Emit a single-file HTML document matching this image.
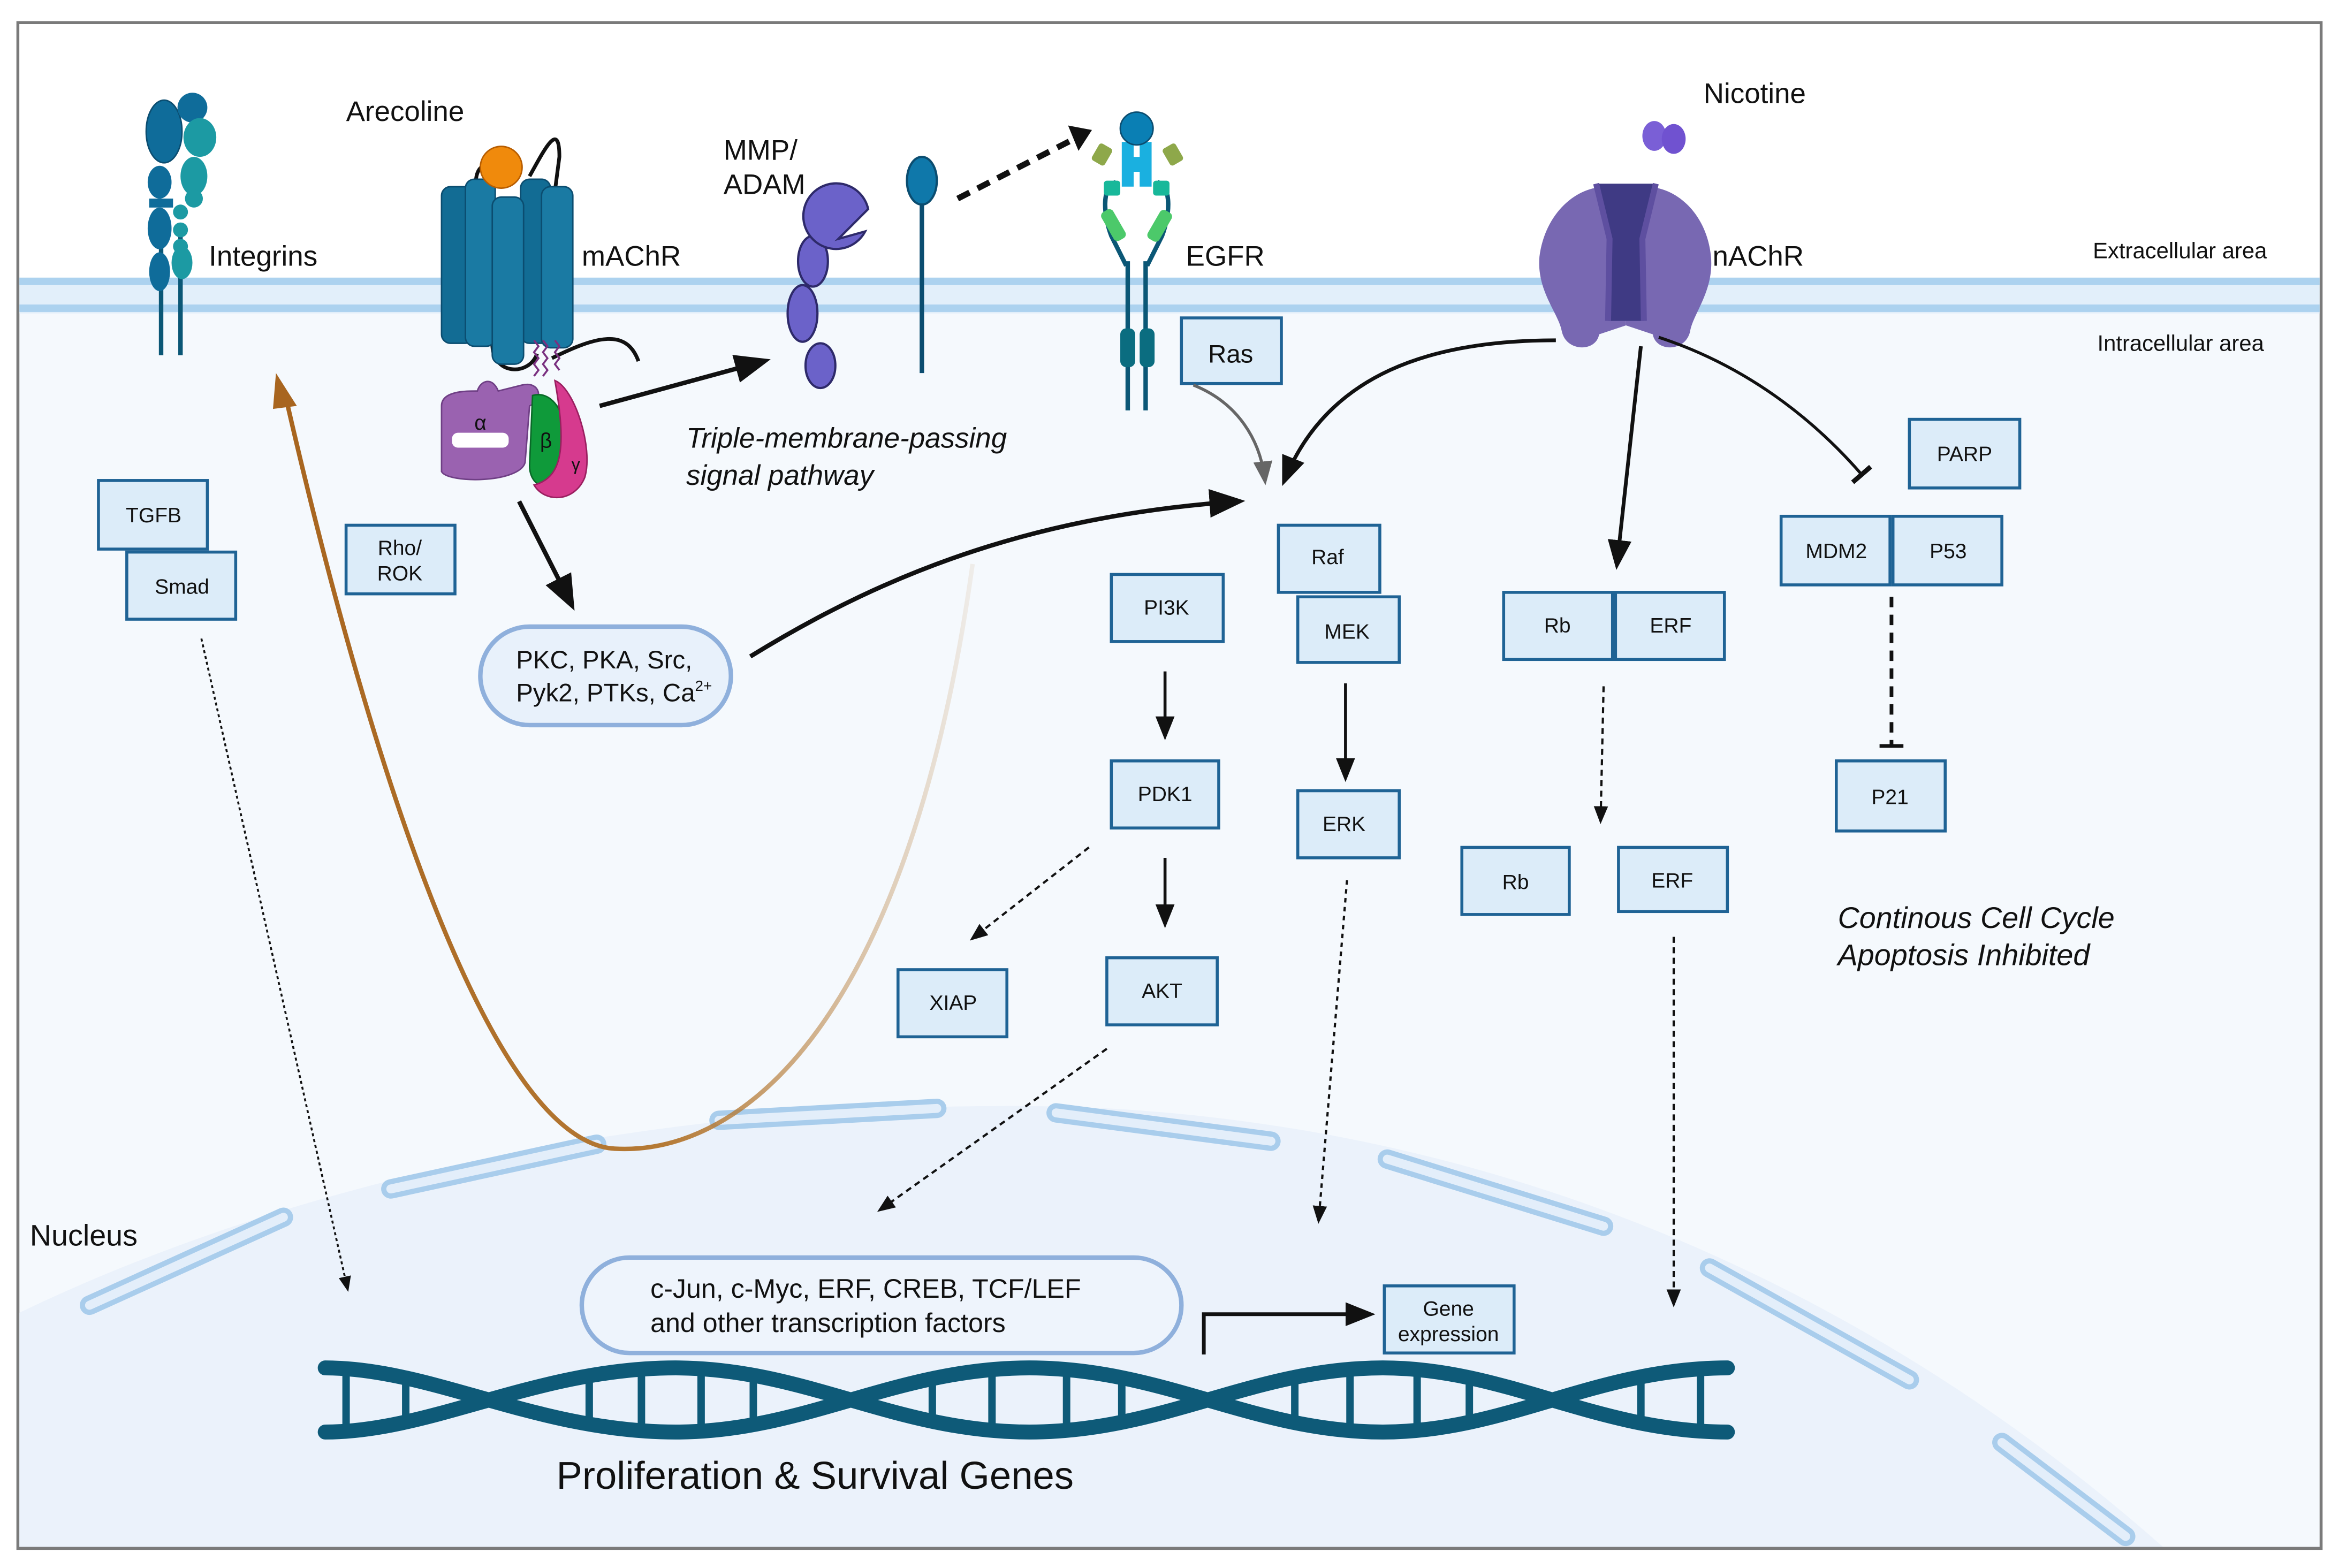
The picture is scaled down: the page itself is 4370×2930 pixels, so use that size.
<!DOCTYPE html>
<html><head><meta charset="utf-8"><style>
html,body{margin:0;padding:0;background:#fff;}
svg{display:block;}
text{font-family:"Liberation Sans",sans-serif;fill:#111;}
.b{fill:#dcecf9;stroke:#1f6395;stroke-width:2;}
.bt{font-size:14px;text-anchor:middle;}
.lb{font-size:19px;}
</style></head><body>
<svg width="4370" height="2930" viewBox="0 0 1568 1051" xmlns="http://www.w3.org/2000/svg">
<defs>
<marker id="ahs" viewBox="0 0 10 10" refX="8" refY="5" markerWidth="8" markerHeight="8" orient="auto"><path d="M0,1 L10,5 L0,9 z" fill="#111"/></marker>
<marker id="ahg" viewBox="0 0 10 10" refX="8" refY="5" markerWidth="8" markerHeight="8" orient="auto"><path d="M0,1 L10,5 L0,9 z" fill="#666"/></marker>
<marker id="tb" viewBox="0 0 10 10" refX="5" refY="5" markerWidth="8" markerHeight="8" orient="auto"><path d="M5,0 L5,10" stroke="#111" stroke-width="2"/></marker>
<linearGradient id="br" x1="0" y1="0" x2="1" y2="0"><stop offset="0" stop-color="#a8651f"/><stop offset="0.55" stop-color="#b57a35"/><stop offset="1" stop-color="#b57a35" stop-opacity="0.1"/></linearGradient>
</defs>
<rect x="0" y="0" width="1568" height="1051" fill="#fff"/>
<rect x="12" y="15" width="1544" height="1023" fill="#f5f9fd" stroke="#7a7a7a" stroke-width="2"/>
<rect x="13" y="16" width="1542" height="170" fill="#fff"/>
<rect x="13" y="186" width="1542" height="24" fill="#e2effa"/>
<rect x="13" y="186" width="1542" height="5" fill="#acd2ef"/>
<rect x="13" y="204" width="1542" height="5" fill="#acd2ef"/>
<path d="M13 880 C 200 790, 450 735, 720 742 C 1000 752, 1250 860, 1450 1037 L13 1037 Z" fill="#ebf2fb"/>
<g stroke-linecap="round">
<g stroke="#a9cdec" stroke-width="13" fill="none">
<path d="M60 875 L190 816"/><path d="M262 797 L400 767"/><path d="M482 751 L628 743"/><path d="M708 746 L852 765"/><path d="M930 777 L1075 822"/><path d="M1146 850 L1280 925"/><path d="M1342 967 L1425 1030"/>
</g>
<g stroke="#e3eefa" stroke-width="6" fill="none">
<path d="M60 875 L190 816"/><path d="M262 797 L400 767"/><path d="M482 751 L628 743"/><path d="M708 746 L852 765"/><path d="M930 777 L1075 822"/><path d="M1146 850 L1280 925"/><path d="M1342 967 L1425 1030"/>
</g>
</g>
<text x="232" y="81" class="lb">Arecoline</text>
<text x="140" y="178" class="lb">Integrins</text>
<text x="390" y="178" class="lb">mAChR</text>
<text x="485" y="107" class="lb">MMP/</text>
<text x="485" y="130" class="lb">ADAM</text>
<text x="795" y="178" class="lb">EGFR</text>
<text x="1142" y="69" class="lb">Nicotine</text>
<text x="1148" y="178" class="lb">nAChR</text>
<text x="1403" y="173" font-size="15">Extracellular area</text>
<text x="1406" y="235" font-size="15">Intracellular area</text>
<text x="460" y="300" font-size="19" font-style="italic">Triple-membrane-passing</text>
<text x="460" y="325" font-size="19" font-style="italic">signal pathway</text>
<text x="1232" y="622" font-size="20" font-style="italic">Continous Cell Cycle</text>
<text x="1232" y="647" font-size="20" font-style="italic">Apoptosis Inhibited</text>
<text x="20" y="835" font-size="20">Nucleus</text>
<text x="373" y="998" font-size="26">Proliferation &amp; Survival Genes</text>
<!-- Integrins -->
<g>
<line x1="108" y1="150" x2="108" y2="238" stroke="#0b5776" stroke-width="3"/>
<line x1="121" y1="150" x2="121" y2="238" stroke="#0b5776" stroke-width="3"/>
<ellipse cx="110" cy="88" rx="12" ry="21" fill="#0f6c9a" stroke="#0b4d70"/>
<ellipse cx="107" cy="122" rx="8" ry="11" fill="#0f6c9a"/>
<rect x="100" y="133" width="16" height="6" fill="#0f6c9a"/>
<ellipse cx="107" cy="153" rx="8" ry="14" fill="#0f6c9a"/>
<ellipse cx="107" cy="182" rx="7" ry="13" fill="#0f6c9a"/>
<circle cx="129" cy="72" r="10" fill="#0f6c9a"/>
<ellipse cx="134" cy="92" rx="11" ry="13" fill="#1c9aa3"/>
<ellipse cx="130" cy="118" rx="9" ry="13" fill="#1c9aa3"/>
<circle cx="121" cy="142" r="5" fill="#1c9aa3"/><circle cx="121" cy="154" r="5" fill="#1c9aa3"/><circle cx="121" cy="165" r="5" fill="#1c9aa3"/>
<ellipse cx="122" cy="176" rx="7" ry="11" fill="#1c9aa3"/>
<circle cx="130" cy="133" r="6" fill="#1c9aa3"/>
</g>
<!-- mAChR -->
<g>
<path d="M330 230 C 330 252, 355 252, 360 237" stroke="#111" stroke-width="2.5" fill="none"/>
<path d="M370 240 C 400 225, 420 220, 428 242" stroke="#111" stroke-width="2.5" fill="none"/>
<path d="M320 130 C 315 110, 330 105, 330 118" stroke="#111" stroke-width="2.5" fill="none"/>
<path d="M355 118 C 365 100, 375 80, 375 105 L 372 128" stroke="#111" stroke-width="2.5" fill="none"/>
<rect x="296" y="125" width="22" height="105" rx="6" fill="#126c94" stroke="#0b4d70"/>
<rect x="312" y="120" width="20" height="112" rx="6" fill="#1a7aa3" stroke="#0b4d70"/>
<rect x="349" y="120" width="20" height="110" rx="6" fill="#126c94" stroke="#0b4d70"/>
<rect x="363" y="125" width="21" height="108" rx="6" fill="#1a7aa3" stroke="#0b4d70"/>
<rect x="330" y="132" width="21" height="112" rx="6" fill="#1a7aa3" stroke="#0b4d70"/>
<circle cx="336" cy="112" r="14" fill="#f08a0c" stroke="#b85d00"/>
<path d="M358 228 l3 4 l-3 4 l3 4 l-3 4 l3 4 l-3 4 M364 228 l3 4 l-3 4 l3 4 l-3 4 l3 4 l-3 4 M372 228 l3 4 l-3 4 l3 4 l-3 4 l3 4" stroke="#7a3080" stroke-width="1.3" fill="none"/>
<path d="M296 272 C 296 262, 312 262, 320 262 C 322 255, 330 252, 334 262 L 350 258 C 362 255, 365 268, 355 272 L 352 310 C 348 324, 300 324, 296 316 Z" fill="#9a62b0" stroke="#6f3f85"/>
<rect x="303" y="290" width="38" height="10" rx="4" fill="#fff"/>
<path d="M357 265 C 375 260, 385 290, 378 315 C 370 332, 355 327, 355 312 Z" fill="#0f9a3a" stroke="#0a6a28"/>
<path d="M372 255 C 385 260, 398 300, 392 320 C 385 337, 365 337, 358 325 C 377 320, 380 300, 372 255 Z" fill="#d63a8e" stroke="#9a1f60"/>
<text x="318" y="288" font-size="14" fill="#333">α</text>
<text x="362" y="300" font-size="14" fill="#333">β</text>
<text x="383" y="315" font-size="12" fill="#333">γ</text>
</g>
<!-- MMP/ADAM -->
<g fill="#6b62c9" stroke="#2e2a6a" stroke-width="1.5">
<ellipse cx="550" cy="245" rx="10" ry="15"/>
<ellipse cx="538" cy="210" rx="10" ry="19"/>
<ellipse cx="545" cy="175" rx="10" ry="17"/>
<path d="M562 160 L580 155 A 22 22 0 1 1 582 140 Z"/>
</g>
<line x1="618" y1="130" x2="618" y2="250" stroke="#0b4d70" stroke-width="3"/>
<ellipse cx="618" cy="121" rx="10" ry="16" fill="#0f78aa" stroke="#0b4d70" stroke-width="1.5"/>
<line x1="642" y1="133" x2="720" y2="93" stroke="#111" stroke-width="4" stroke-dasharray="9,6"/>
<path d="M716 84 L732 87 L723 101 Z" fill="#111"/>
<!-- EGFR -->
<g>
<line x1="756" y1="175" x2="756" y2="275" stroke="#0b5776" stroke-width="3"/>
<line x1="768" y1="175" x2="768" y2="275" stroke="#0b5776" stroke-width="3"/>
<rect x="751" y="220" width="10" height="26" rx="4" fill="#0b6d80"/>
<rect x="764" y="220" width="10" height="26" rx="4" fill="#0b6d80"/>
<path d="M748 122 C 738 125, 740 145, 745 158 L 755 178 M776 122 C 786 125, 784 145, 779 158 L 769 178" stroke="#0b5776" stroke-width="3" fill="none"/>
<rect x="742" y="140" width="9" height="22" rx="3" fill="#4cc96a" transform="rotate(-30 746 151)"/>
<rect x="773" y="140" width="9" height="22" rx="3" fill="#4cc96a" transform="rotate(30 777 151)"/>
<rect x="734" y="97" width="10" height="13" rx="2" fill="#8ea84a" transform="rotate(30 739 103)"/>
<rect x="781" y="97" width="10" height="13" rx="2" fill="#8ea84a" transform="rotate(-30 786 103)"/>
<rect x="740" y="121" width="11" height="10" rx="2" fill="#18b89a"/>
<rect x="773" y="121" width="11" height="10" rx="2" fill="#18b89a"/>
<path d="M752 95 h8 v10 h4 v-10 h8 v30 h-8 v-10 h-4 v10 h-8 z" fill="#1ab0e0"/>
<circle cx="762" cy="86" r="11" fill="#0a7fb4" stroke="#0b4d70"/>
</g>
<rect x="792" y="213" width="67" height="44" class="b"/>
<text x="825" y="243" font-size="17" text-anchor="middle">Ras</text>
<ellipse cx="1109" cy="91" rx="8" ry="10" fill="#7a5fd6"/>
<ellipse cx="1122" cy="93" rx="8" ry="10" fill="#7052d0"/>
<!-- nAChR -->
<g>
<path d="M1090 127 C 1062 118, 1036 140, 1032 172 C 1030 195, 1045 210, 1047 222 C 1050 236, 1070 236, 1072 224 L 1090 218 Z" fill="#7868b2"/>
<path d="M1090 127 C 1118 118, 1144 140, 1147 172 C 1149 195, 1135 210, 1133 222 C 1130 236, 1110 236, 1108 224 L 1090 218 Z" fill="#7868b2"/>
<path d="M1070 123 L1110 123 L1101 160 L1102 215 L1078 215 L1079 160 Z" fill="#3f3a84"/>
<path d="M1070 123 L1079 160 L1078 215" stroke="#5e4fa0" stroke-width="4" fill="none"/>
<path d="M1110 123 L1101 160 L1102 215" stroke="#5e4fa0" stroke-width="4" fill="none"/>
</g>
<!-- boxes -->
<rect x="66" y="322" width="73" height="46" class="b"/><text x="103" y="350" class="bt">TGFB</text>
<rect x="85" y="370" width="73" height="45" class="b"/><text x="122" y="398" class="bt">Smad</text>
<rect x="232" y="352" width="73" height="46" class="b"/><text x="268" y="372" class="bt">Rho/</text><text x="268" y="389" class="bt">ROK</text>
<rect x="745" y="385" width="75" height="45" class="b"/><text x="782" y="412" class="bt">PI3K</text>
<rect x="857" y="352" width="68" height="45" class="b"/><text x="890" y="378" class="bt">Raf</text>
<rect x="870" y="400" width="68" height="44" class="b"/><text x="903" y="428" class="bt">MEK</text>
<rect x="745" y="510" width="72" height="45" class="b"/><text x="781" y="537" class="bt">PDK1</text>
<rect x="870" y="530" width="68" height="45" class="b"/><text x="901" y="557" class="bt">ERK</text>
<rect x="602" y="650" width="73" height="45" class="b"/><text x="639" y="677" class="bt">XIAP</text>
<rect x="742" y="642" width="74" height="45" class="b"/><text x="779" y="669" class="bt">AKT</text>
<rect x="1008" y="397" width="73" height="45" class="b"/><text x="1044" y="424" class="bt">Rb</text>
<rect x="1083" y="397" width="73" height="45" class="b"/><text x="1120" y="424" class="bt">ERF</text>
<rect x="980" y="568" width="72" height="45" class="b"/><text x="1016" y="596" class="bt">Rb</text>
<rect x="1085" y="568" width="73" height="43" class="b"/><text x="1121" y="595" class="bt">ERF</text>
<rect x="1280" y="281" width="74" height="46" class="b"/><text x="1317" y="309" class="bt">PARP</text>
<rect x="1194" y="346" width="73" height="46" class="b"/><text x="1231" y="374" class="bt">MDM2</text>
<rect x="1269" y="346" width="73" height="46" class="b"/><text x="1306" y="374" class="bt">P53</text>
<rect x="1231" y="510" width="73" height="47" class="b"/><text x="1267" y="539" class="bt">P21</text>
<rect x="928" y="862" width="87" height="45" class="b"/><text x="971" y="882" class="bt">Gene</text><text x="971" y="899" class="bt">expression</text>
<rect x="322" y="420" width="168" height="66" rx="33" fill="#e8f1fb" stroke="#8fb0dc" stroke-width="3"/>
<text x="346" y="448" font-size="17">PKC, PKA, Src,</text>
<text x="346" y="470" font-size="17">Pyk2, PTKs, Ca<tspan font-size="10" dy="-7">2+</tspan></text>
<rect x="390" y="843" width="402" height="64" rx="32" fill="#eef4fc" stroke="#8fb0dc" stroke-width="3"/>
<text x="436" y="870" font-size="18">c-Jun, c-Myc, ERF, CREB, TCF/LEF</text>
<text x="436" y="893" font-size="18">and other transcription factors</text>
<!-- DNA -->
<g stroke="#0e5a78" fill="none" stroke-linecap="round">
<path stroke-width="10" d="M218 917 C 290 917, 360 960, 453 960 C 540 960, 600 917, 690 917 C 780 917, 840 960, 927 960 C 1010 960, 1070 917, 1158 917"/>
<path stroke-width="10" d="M218 960 C 290 960, 360 917, 453 917 C 540 917, 600 960, 690 960 C 780 960, 840 917, 927 917 C 1010 917, 1070 960, 1158 960"/>
<g stroke-width="5">
<line x1="232" y1="920" x2="232" y2="957"/><line x1="272" y1="922" x2="272" y2="955"/>
<line x1="395" y1="922" x2="395" y2="955"/><line x1="430" y1="920" x2="430" y2="957"/><line x1="470" y1="920" x2="470" y2="957"/><line x1="505" y1="922" x2="505" y2="955"/>
<line x1="625" y1="922" x2="625" y2="955"/><line x1="665" y1="920" x2="665" y2="957"/><line x1="715" y1="920" x2="715" y2="957"/><line x1="752" y1="922" x2="752" y2="955"/>
<line x1="868" y1="922" x2="868" y2="955"/><line x1="905" y1="920" x2="905" y2="957"/><line x1="950" y1="920" x2="950" y2="957"/><line x1="985" y1="922" x2="985" y2="955"/>
<line x1="1100" y1="922" x2="1100" y2="955"/><line x1="1140" y1="920" x2="1140" y2="957"/>
</g>
</g>
<!-- connectors -->
<path d="M652 378 C 610 680, 500 775, 412 770 C 330 765, 250 520, 192 268" stroke="url(#br)" stroke-width="3" fill="none"/>
<path d="M185 250 L199 272 L183 274 Z" fill="#a8651f"/>
<line x1="402" y1="272" x2="512" y2="242" stroke="#111" stroke-width="3" marker-end="url(#ahs)"/>
<line x1="348" y1="336" x2="383" y2="405" stroke="#111" stroke-width="3" marker-end="url(#ahs)"/>
<path d="M503 440 C 600 380, 700 345, 830 336" stroke="#111" stroke-width="3" fill="none" marker-end="url(#ahs)"/>
<path d="M800 258 C 830 270, 845 295, 848 322" stroke="#666" stroke-width="2" fill="none" marker-end="url(#ahg)"/>
<path d="M1043 228 C 960 228, 890 250, 861 322" stroke="#111" stroke-width="2.5" fill="none" marker-end="url(#ahs)"/>
<line x1="1100" y1="232" x2="1084" y2="378" stroke="#111" stroke-width="2.5" marker-end="url(#ahs)"/>
<path d="M1112 226 C 1170 245, 1215 280, 1248 318" stroke="#111" stroke-width="2" fill="none" marker-end="url(#tb)"/>
<line x1="1268" y1="400" x2="1268" y2="500" stroke="#111" stroke-width="2.5" stroke-dasharray="7,5"/>
<line x1="1260" y1="500" x2="1276" y2="500" stroke="#111" stroke-width="2.5"/>
<line x1="781" y1="450" x2="781" y2="493" stroke="#111" stroke-width="2" marker-end="url(#ahs)"/>
<line x1="781" y1="575" x2="781" y2="619" stroke="#111" stroke-width="2" marker-end="url(#ahs)"/>
<line x1="902" y1="458" x2="902" y2="521" stroke="#111" stroke-width="2" marker-end="url(#ahs)"/>
<line x1="730" y1="568" x2="652" y2="629" stroke="#111" stroke-width="1.5" stroke-dasharray="4,3" marker-end="url(#ahs)"/>
<line x1="1075" y1="460" x2="1073" y2="550" stroke="#111" stroke-width="1.5" stroke-dasharray="4,3" marker-end="url(#ahs)"/>
<line x1="742" y1="703" x2="590" y2="811" stroke="#111" stroke-width="1.5" stroke-dasharray="4,3" marker-end="url(#ahs)"/>
<line x1="903" y1="590" x2="884" y2="818" stroke="#111" stroke-width="1.5" stroke-dasharray="3,3" marker-end="url(#ahs)"/>
<line x1="1122" y1="628" x2="1122" y2="874" stroke="#111" stroke-width="1.5" stroke-dasharray="4,3" marker-end="url(#ahs)"/>
<line x1="135" y1="428" x2="233" y2="864" stroke="#111" stroke-width="1.3" stroke-dasharray="2,2" marker-end="url(#ahs)"/>
<path d="M807 908 L807 881 L918 881" stroke="#111" stroke-width="2.5" fill="none" marker-end="url(#ahs)"/>
</svg>
</body></html>
